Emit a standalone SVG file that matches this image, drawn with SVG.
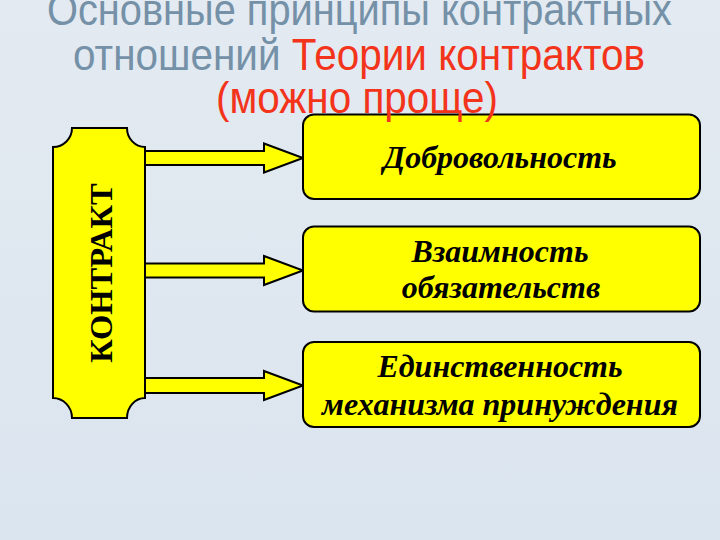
<svg xmlns="http://www.w3.org/2000/svg" width="720" height="540" viewBox="0 0 720 540">
  <defs>
    <linearGradient id="bg" x1="0" y1="0" x2="0" y2="1">
      <stop offset="0" stop-color="#e3eaf1"/>
      <stop offset="1" stop-color="#dbe5ef"/>
    </linearGradient>
    <style>
      .title { font-family: "Liberation Sans", Arial, sans-serif; font-size: 44px; text-anchor: middle; }
      .grey { fill: #7591a8; }
      .red { fill: #f3341b; }
      .shape { fill: #ffff00; stroke: #000; stroke-width: 2; stroke-linejoin: miter; }
      .arrow { fill: #ffff00; stroke: #000; stroke-width: 2; stroke-linejoin: miter; }
      .lbl { font-family: "Liberation Serif", "Times New Roman", serif; font-weight: bold; font-style: italic; font-size: 32px; fill: #000; text-anchor: middle; }
      .side { font-family: "Liberation Serif", "Times New Roman", serif; font-weight: bold; font-size: 32.5px; fill: #000; text-anchor: middle; }
    </style>
  </defs>
  <rect width="720" height="540" fill="url(#bg)"/>

  <g id="connectors">
    <polygon class="arrow" points="140,151 264,151 264,143.5 303,158 264,172.5 264,165 140,165"/>
    <polygon class="arrow" points="140,263.5 264,263.5 264,256 303,270.5 264,285 264,277.5 140,277.5"/>
    <polygon class="arrow" points="140,378 264,378 264,371 303,385.5 264,400 264,393 140,393"/>
  </g>

  <g id="contract">
    <path class="shape" d="M72,128 H127 A18,19 0 0 0 145,147 V398 A18,20 0 0 0 127,418 H72 A19,20 0 0 0 53,398 V147 A19,19 0 0 0 72,128 Z"/>
    <text class="side" transform="translate(112,273) rotate(-90)" x="0" y="0">КОНТРАКТ</text>
  </g>

  <g id="voluntariness">
    <rect class="shape" x="303" y="114.5" width="397" height="84.5" rx="11"/>
    <text class="lbl" x="500" y="168">Добровольность</text>
  </g>

  <g id="reciprocity">
    <rect class="shape" x="303" y="226.5" width="397" height="85" rx="11"/>
    <text class="lbl" x="500" y="262">Взаимность</text>
    <text class="lbl" x="501" y="298">обязательств</text>
  </g>

  <g id="enforcement">
    <rect class="shape" x="303" y="342" width="397" height="85" rx="11"/>
    <text class="lbl" x="500" y="377">Единственность</text>
    <text class="lbl" x="500" y="415">механизма принуждения</text>
  </g>

  <g id="title">
    <text class="title grey" x="359.5" y="25" textLength="625" lengthAdjust="spacingAndGlyphs">Основные принципы контрактных</text>
    <text class="title" x="359" y="70" textLength="572" lengthAdjust="spacingAndGlyphs"><tspan class="grey">отношений </tspan><tspan class="red">Теории контрактов</tspan></text>
    <text class="title red" x="357" y="113" textLength="282" lengthAdjust="spacingAndGlyphs">(можно проще)</text>
  </g>
</svg>
